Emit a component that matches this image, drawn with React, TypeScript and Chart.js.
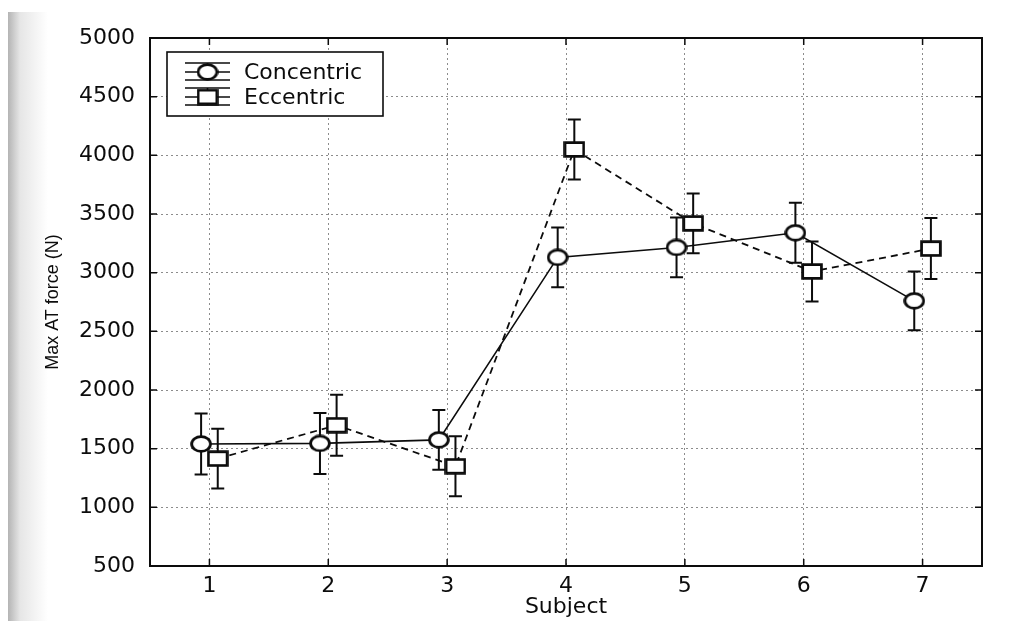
import React, { useEffect, useRef } from "react";
import { Chart, registerables } from "chart.js";

Chart.register(...registerables);

const subjects = [1, 2, 3, 4, 5, 6, 7];
const concentricMean = [1540, 1545, 1575, 3130, 3215, 3340, 2760];
const concentricErr = [260, 260, 255, 255, 255, 255, 250];
const eccentricMean = [1415, 1700, 1350, 4050, 3420, 3010, 3205];
const eccentricErr = [255, 260, 255, 255, 255, 255, 260];
const yTickValues = [500, 1000, 1500, 2000, 2500, 3000, 3500, 4000, 4500, 5000];
const seriesNames = ["Concentric", "Eccentric"];
const xTitle = "Subject";
const yTitle = "Max AT force (N)";

const INK = "#0c0c0c";

function makeMarker(shape: "circle" | "square"): HTMLCanvasElement {
  const w = 22;
  const h = shape === "circle" ? 18 : 17;
  const c = document.createElement("canvas");
  c.width = w;
  c.height = h;
  const ctx = c.getContext("2d")!;
  ctx.lineWidth = 2.8;
  ctx.strokeStyle = INK;
  ctx.fillStyle = "#ffffff";
  ctx.beginPath();
  if (shape === "circle") ctx.ellipse(w / 2, h / 2, w / 2 - 1.6, h / 2 - 1.6, 0, 0, Math.PI * 2);
  else ctx.rect(1.6, 1.6, w - 3.2, h - 3.2);
  ctx.fill();
  ctx.stroke();
  return c;
}

const errorBarPlugin = {
  id: "errorBars",
  beforeDatasetsDraw(chart: any) {
    const { ctx, scales } = chart;
    const x = scales.x;
    const y = scales.y;
    ctx.save();
    ctx.strokeStyle = INK;
    ctx.lineWidth = 2;
    ctx.setLineDash([]);
    chart.data.datasets.forEach((ds: any) => {
      ds.data.forEach((p: any, i: number) => {
        const e = ds.errors[i];
        const px = x.getPixelForValue(p.x);
        const top = y.getPixelForValue(p.y + e);
        const bot = y.getPixelForValue(p.y - e);
        const cap = 6.5;
        ctx.beginPath();
        ctx.moveTo(px, top);
        ctx.lineTo(px, bot);
        ctx.moveTo(px - cap, top);
        ctx.lineTo(px + cap, top);
        ctx.moveTo(px - cap, bot);
        ctx.lineTo(px + cap, bot);
        ctx.stroke();
      });
    });
    ctx.restore();
  },
};

const frameAndLegendPlugin = {
  id: "frameLegend",
  afterDraw(chart: any) {
    const { ctx, chartArea, scales } = chart;
    const { left, right, top, bottom } = chartArea;
    ctx.save();
    ctx.setLineDash([]);
    ctx.strokeStyle = INK;
    ctx.lineWidth = 2;
    ctx.strokeRect(left, top, right - left, bottom - top);
    // inward ticks
    ctx.lineWidth = 1.5;
    const tl = 7;
    ctx.beginPath();
    yTickValues.forEach((v) => {
      const py = scales.y.getPixelForValue(v);
      ctx.moveTo(left, py);
      ctx.lineTo(left + tl, py);
      ctx.moveTo(right, py);
      ctx.lineTo(right - tl, py);
    });
    subjects.forEach((v) => {
      const px = scales.x.getPixelForValue(v);
      ctx.moveTo(px, bottom);
      ctx.lineTo(px, bottom - tl);
      ctx.moveTo(px, top);
      ctx.lineTo(px, top + tl);
    });
    ctx.stroke();

    // legend
    const bx = left + 17;
    const by = top + 14;
    const bw = 216;
    const bh = 64;
    ctx.fillStyle = "#ffffff";
    ctx.fillRect(bx, by, bw, bh);
    ctx.lineWidth = 1.6;
    ctx.strokeStyle = INK;
    ctx.strokeRect(bx, by, bw, bh);
    ctx.font = "22px 'DejaVu Sans'";
    ctx.textBaseline = "middle";
    ctx.textAlign = "left";
    ctx.fillStyle = INK;
    chart.data.datasets.forEach((ds: any, i: number) => {
      const cy = by + 20 + i * 25;
      const x0 = bx + 18;
      const x1 = bx + 63;
      ctx.lineWidth = 1.6;
      ctx.beginPath();
      ctx.moveTo(x0, cy - 9);
      ctx.lineTo(x1, cy - 9);
      ctx.moveTo(x0, cy);
      ctx.lineTo(x1, cy);
      ctx.moveTo(x0, cy + 8);
      ctx.lineTo(x1, cy + 8);
      ctx.moveTo((x0 + x1) / 2, cy - 9);
      ctx.lineTo((x0 + x1) / 2, cy + 8);
      ctx.stroke();
      const img = ds.pointStyle as HTMLCanvasElement;
      ctx.drawImage(img, (x0 + x1) / 2 - img.width / 2, cy - img.height / 2);
      ctx.fillText(seriesNames[i], bx + 77, cy + 1);
    });
    ctx.restore();
  },
};

export default function App() {
  const canvasRef = useRef<HTMLCanvasElement | null>(null);

  useEffect(() => {
    if (!canvasRef.current) return;
    const circle = makeMarker("circle");
    const square = makeMarker("square");
    const chart = new Chart(canvasRef.current, {
      type: "line",
      data: {
        datasets: [
          {
            label: seriesNames[0],
            data: subjects.map((s, i) => ({ x: s - 0.07, y: concentricMean[i] })),
            errors: concentricErr,
            borderColor: INK,
            borderWidth: 1.6,
            pointStyle: circle,
            pointRadius: 10,
            pointHoverRadius: 10,
            tension: 0,
            fill: false,
          } as any,
          {
            label: seriesNames[1],
            data: subjects.map((s, i) => ({ x: s + 0.07, y: eccentricMean[i] })),
            errors: eccentricErr,
            borderColor: INK,
            borderWidth: 1.8,
            borderDash: [7, 5],
            pointStyle: square,
            pointRadius: 10,
            pointHoverRadius: 10,
            tension: 0,
            fill: false,
          } as any,
        ],
      },
      options: {
        animation: false,
        responsive: true,
        maintainAspectRatio: false,
        events: [],
        layout: { padding: { left: 0, top: 38, right: 34, bottom: 0 } },
        plugins: { legend: { display: false }, tooltip: { enabled: false } },
        scales: {
          x: {
            type: "linear",
            min: 0.5,
            max: 7.5,
            afterBuildTicks: (scale: any) => {
              scale.ticks = subjects.map((v) => ({ value: v }));
            },
            afterFit: (scale: any) => {
              scale.height = 55;
            },
            grid: { color: "#8c8c8c", lineWidth: 1, drawTicks: false },
            border: { display: true, color: INK, width: 2, dash: [2, 3] },
            ticks: {
              color: INK,
              padding: 9,
              font: { family: "'DejaVu Sans'", size: 22, lineHeight: 1 },
              callback: (v: any) => String(v),
            },
            title: {
              display: true,
              text: xTitle,
              color: INK,
              font: { family: "'DejaVu Sans'", size: 22, lineHeight: 1 },
              padding: { top: 0, bottom: 3 },
            },
          },
          y: {
            type: "linear",
            min: 500,
            max: 5000,
            afterBuildTicks: (scale: any) => {
              scale.ticks = yTickValues.map((v) => ({ value: v }));
            },
            afterFit: (scale: any) => {
              scale.width = 150;
            },
            grid: { color: "#8c8c8c", lineWidth: 1, drawTicks: false },
            border: { display: true, color: INK, width: 2, dash: [2, 3] },
            ticks: {
              color: INK,
              padding: 15,
              font: { family: "'DejaVu Sans'", size: 22, lineHeight: 1 },
              callback: (v: any) => String(v),
            },
            title: {
              display: true,
              text: yTitle,
              color: INK,
              font: { family: "'Liberation Sans'", size: 18, lineHeight: 1 },
              padding: { top: 44, bottom: 4 },
            },
          },
        },
      } as any,
      plugins: [errorBarPlugin, frameAndLegendPlugin],
    });
    return () => chart.destroy();
  }, []);

  return (
    <div style={{ position: "fixed", left: 0, top: 0, width: 1016, height: 621, background: "#ffffff" }}>
      <div
        style={{
          position: "absolute",
          left: 8,
          top: 12,
          width: 40,
          height: 609,
          background: "linear-gradient(to right, #b4b4b4, #e6e6e6 30%, #ffffff)",
        }}
      />
      <div style={{ position: "absolute", left: 0, top: 0, width: 1016, height: 621 }}>
        <canvas ref={canvasRef} />
      </div>
    </div>
  );
}
